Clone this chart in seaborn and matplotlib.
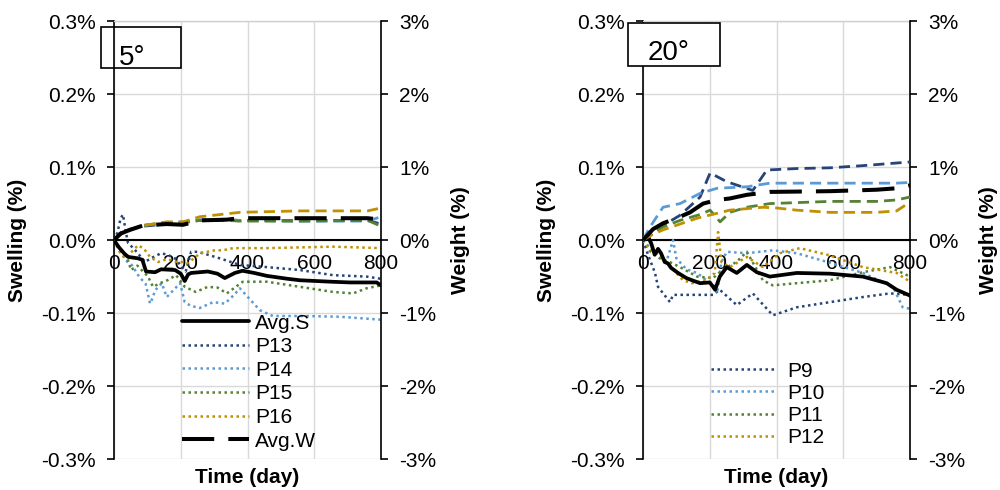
import numpy as np
import matplotlib
matplotlib.use("Agg")
import matplotlib.pyplot as plt
from matplotlib.patches import Rectangle
import seaborn as sns

sns.set_theme(style="white")
plt.rcParams["font.family"] = ["Liberation Sans", "DejaVu Sans"]
plt.rcParams.update({"text.color": "black", "axes.labelcolor": "black",
                     "xtick.color": "black", "ytick.color": "black"})

NAVY = "#264478"
LBLUE = "#5B9BD5"
GREEN = "#548235"
GOLD = "#BF9000"

# ---------------- axis ticks ----------------
time_ticks = [0, 200, 400, 600, 800]
sw_ticks = [-0.3, -0.2, -0.1, 0.0, 0.1, 0.2, 0.3]
sw_ticklabels = ["-0.3%", "-0.2%", "-0.1%", "0.0%", "0.1%", "0.2%", "0.3%"]
wt_ticks = [-3, -2, -1, 0, 1, 2, 3]
wt_ticklabels = ["-3%", "-2%", "-1%", "0%", "1%", "2%", "3%"]

# ---------------- 5 degree specimens: swelling (%) ----------------
avgs5_day = [0, 15, 30, 42, 72, 85, 96, 123, 141, 183, 200, 212, 222, 231, 281,
             310, 332, 362, 385, 420, 458, 520, 557, 650, 707, 787, 800]
avgs5 = [0, -0.010, -0.018, -0.023, -0.025, -0.027, -0.043, -0.044, -0.040, -0.041,
         -0.046, -0.056, -0.047, -0.045, -0.043, -0.046, -0.052, -0.045, -0.042,
         -0.045, -0.049, -0.053, -0.055, -0.057, -0.058, -0.058, -0.062]

p13_day = [0, 10, 20, 27, 35, 42, 60, 75, 93, 110, 141, 160, 183, 200, 215, 231,
           251, 281, 317, 377, 458, 557, 656, 757, 800]
p13 = [0, 0.010, 0.030, 0.035, 0.012, -0.004, -0.012, -0.020, -0.030, -0.025,
       -0.018, -0.020, -0.025, -0.035, -0.043, -0.016, -0.016, -0.020, -0.025,
       -0.034, -0.037, -0.041, -0.048, -0.050, -0.053]

p14_day = [0, 15, 33, 55, 75, 95, 108, 115, 123, 143, 158, 175, 198, 212, 230,
           257, 297, 332, 360, 377, 437, 476, 577, 677, 800]
p14 = [0, -0.010, -0.027, -0.035, -0.050, -0.060, -0.087, -0.080, -0.069, -0.059,
       -0.078, -0.070, -0.059, -0.085, -0.090, -0.093, -0.085, -0.087, -0.075,
       -0.066, -0.096, -0.104, -0.104, -0.105, -0.109]

p15_day = [0, 15, 39, 51, 70, 102, 117, 138, 160, 186, 212, 245, 281, 310, 338,
           386, 458, 557, 656, 716, 757, 800]
p15 = [0, -0.012, -0.023, -0.041, -0.035, -0.050, -0.064, -0.059, -0.055, -0.048,
       -0.064, -0.071, -0.064, -0.065, -0.073, -0.057, -0.057, -0.064, -0.071,
       -0.073, -0.066, -0.062]

p16_day = [0, 15, 35, 55, 72, 90, 108, 132, 160, 190, 207, 218, 240, 257, 302,
           326, 356, 458, 656, 800]
p16 = [0, -0.015, -0.025, -0.015, -0.007, -0.012, -0.023, -0.030, -0.026, -0.030,
       -0.030, -0.032, -0.025, -0.018, -0.014, -0.014, -0.011, -0.011, -0.009, -0.011]

# ---------------- 5 degree specimens: weight (%) ----------------
w5_day = [0, 20, 48, 87, 158, 207, 257, 338, 377, 557, 760, 800]
p13w = [0, 0.10, 0.15, 0.19, 0.22, 0.24, 0.27, 0.28, 0.27, 0.27, 0.27, 0.22]
p14w = [0, 0.09, 0.15, 0.20, 0.24, 0.25, 0.28, 0.27, 0.27, 0.26, 0.26, 0.32]
p15w = [0, 0.08, 0.14, 0.20, 0.24, 0.24, 0.27, 0.27, 0.26, 0.26, 0.27, 0.19]
p16w = [0, 0.08, 0.14, 0.20, 0.25, 0.25, 0.32, 0.36, 0.38, 0.40, 0.40, 0.44]
avgw5 = [0, 0.09, 0.14, 0.20, 0.22, 0.21, 0.27, 0.28, 0.30, 0.30, 0.30, 0.28]

# ---------------- 20 degree specimens: swelling (%) ----------------
avgs20_day = [0, 15, 25, 35, 45, 54, 65, 75, 84, 105, 130, 147, 171, 200, 210, 216,
              230, 251, 281, 311, 341, 380, 461, 560, 659, 730, 760, 800]
avgs20 = [0, 0.005, -0.005, -0.020, -0.012, -0.018, -0.030, -0.032, -0.038, -0.045,
          -0.052, -0.055, -0.059, -0.058, -0.064, -0.068, -0.050, -0.037, -0.045,
          -0.034, -0.044, -0.050, -0.045, -0.046, -0.050, -0.059, -0.068, -0.076]

p9_day = [0, 15, 36, 45, 81, 90, 150, 210, 230, 281, 329, 389, 461, 560, 659, 740, 800]
p9 = [0, -0.020, -0.045, -0.064, -0.085, -0.075, -0.075, -0.075, -0.068, -0.089,
      -0.073, -0.103, -0.092, -0.085, -0.078, -0.073, -0.075]

p10_day = [0, 20, 45, 70, 90, 100, 130, 162, 190, 210, 222, 235, 251, 311, 389,
           461, 560, 659, 749, 778, 800]
p10 = [0, -0.010, -0.020, -0.030, 0.000, -0.025, -0.040, -0.045, -0.055, -0.060,
       -0.073, -0.030, -0.016, -0.018, -0.014, -0.018, -0.031, -0.045, -0.064,
       -0.092, -0.094]

p11_day = [0, 20, 50, 80, 111, 162, 210, 240, 280, 311, 359, 389, 461, 560, 659, 740, 800]
p11 = [0, -0.015, -0.025, -0.030, -0.037, -0.050, -0.052, -0.040, -0.030, -0.016,
       -0.055, -0.062, -0.059, -0.055, -0.044, -0.037, -0.050]

p12_day = [0, 20, 50, 80, 120, 147, 190, 215, 225, 235, 260, 311, 359, 410, 470,
           560, 659, 760, 800]
p12 = [0, -0.012, -0.020, -0.035, -0.055, -0.059, -0.055, -0.045, 0.011, -0.030,
       -0.037, -0.023, -0.037, -0.018, -0.011, -0.021, -0.037, -0.045, -0.057]

# ---------------- 20 degree specimens: weight (%) ----------------
p9w_day = [0, 30, 60, 111, 171, 201, 251, 329, 371, 461, 560, 659, 800]
p9w = [0, 0.10, 0.20, 0.34, 0.59, 0.92, 0.80, 0.68, 0.96, 0.98, 0.99, 1.02, 1.07]
p10w_day = [0, 21, 60, 111, 171, 222, 311, 380, 560, 760, 800]
p10w = [0, 0.18, 0.45, 0.50, 0.64, 0.71, 0.73, 0.78, 0.78, 0.78, 0.79]
p11w_day = [0, 30, 60, 111, 171, 201, 231, 260, 311, 380, 560, 700, 760, 800]
p11w = [0, 0.10, 0.18, 0.27, 0.35, 0.41, 0.25, 0.38, 0.45, 0.50, 0.53, 0.53, 0.55, 0.59]
p12w_day = [0, 30, 60, 111, 162, 260, 359, 400, 461, 560, 700, 760, 800]
p12w = [0, 0.08, 0.14, 0.22, 0.30, 0.41, 0.45, 0.44, 0.41, 0.38, 0.38, 0.40, 0.52]
avgw20_day = [0, 30, 60, 111, 141, 180, 222, 260, 311, 380, 560, 700, 760, 800]
avgw20 = [0, 0.15, 0.23, 0.32, 0.38, 0.50, 0.55, 0.57, 0.62, 0.66, 0.67, 0.69, 0.71, 0.75]

FS = 15
DOT = (0, (1, 1.4))
DASH = (0, (4.0, 2.2))
LONGDASH = (0, (8, 3.5))
LW_DOT = 1.8
LW_DASH = 2.0

fig = plt.figure(figsize=(10, 4.9), dpi=100)


def make_panel(rect):
    ax = fig.add_axes(rect)
    ax2 = ax.twinx()
    ax.set_xlim(0, 800)
    ax.set_ylim(-0.3, 0.3)
    ax.set_xticks(time_ticks)
    ax.set_xticklabels([str(t) for t in time_ticks])
    ax.set_yticks(sw_ticks)
    ax.set_yticklabels(sw_ticklabels)
    ax.grid(True, color="#d9d9d9", lw=1.0)
    ax.set_axisbelow(True)
    ax.spines["bottom"].set_position(("data", 0))
    ax.spines["bottom"].set_color("black")
    ax.spines["bottom"].set_linewidth(1.5)
    ax.spines["left"].set_color("black")
    ax.spines["left"].set_linewidth(1.2)
    ax.spines["right"].set_visible(False)
    ax.spines["top"].set_color("#d0d0d0")
    ax.spines["top"].set_linewidth(1.0)
    ax.tick_params(axis="y", left=True, direction="out", length=5, width=1.2,
                   color="black", labelcolor="black", pad=8, labelsize=FS)
    ax.tick_params(axis="x", bottom=True, length=0, pad=10, labelsize=FS,
                   labelcolor="black")
    ax.set_xlabel("")
    ax.set_ylabel("")

    ax2.set_ylim(-3, 3)
    ax2.set_yticks(wt_ticks)
    ax2.set_yticklabels(wt_ticklabels)
    ax2.grid(False)
    for s in ["left", "top", "bottom"]:
        ax2.spines[s].set_visible(False)
    ax2.spines["right"].set_color("black")
    ax2.spines["right"].set_linewidth(1.2)
    ax2.tick_params(axis="y", right=True, direction="out", length=5, width=1.2,
                    color="black", labelcolor="black", pad=8, labelsize=FS)
    return ax, ax2


def draw(ax, x, y, color, style, lw, label, z=3):
    sns.lineplot(x=x, y=y, ax=ax, color=color, linestyle=style, lw=lw,
                 estimator=None, sort=False, legend=False, label=label, zorder=z)
    line = ax.lines[-1]
    if style == DOT:
        line.set_dash_capstyle("butt")
    return line


# ---------------- 5 degree panel ----------------
axL, axL2 = make_panel([0.114, 0.063, 0.267, 0.894])
hp13 = draw(axL, p13_day, p13, NAVY, DOT, LW_DOT, "P13")
hp14 = draw(axL, p14_day, p14, LBLUE, DOT, LW_DOT, "P14")
hp15 = draw(axL, p15_day, p15, GREEN, DOT, LW_DOT, "P15")
hp16 = draw(axL, p16_day, p16, GOLD, DOT, LW_DOT, "P16")
hs5 = draw(axL, avgs5_day, avgs5, "black", "-", 2.7, "Avg.S", z=4)
draw(axL2, w5_day, p13w, NAVY, DASH, LW_DASH, "P13")
draw(axL2, w5_day, p14w, LBLUE, DASH, LW_DASH, "P14")
draw(axL2, w5_day, p15w, GREEN, DASH, LW_DASH, "P15")
draw(axL2, w5_day, p16w, GOLD, DASH, LW_DASH, "P16")
hw5 = draw(axL2, w5_day, avgw5, "black", LONGDASH, 2.9, "Avg.W", z=4)
axL2.set_ylabel("")

axL2.legend([hs5, hp13, hp14, hp15, hp16, hw5],
            ["Avg.S", "P13", "P14", "P15", "P16", "Avg.W"],
            loc="upper left", bbox_to_anchor=(0.182, 0.360),
            bbox_transform=fig.transFigure, frameon=False, fontsize=FS,
            handlelength=3.2, handletextpad=0.3, labelspacing=0.22,
            borderpad=0, borderaxespad=0)

# ---------------- 20 degree panel ----------------
axR, axR2 = make_panel([0.643, 0.063, 0.267, 0.894])
hp9 = draw(axR, p9_day, p9, NAVY, DOT, LW_DOT, "P9")
hp10 = draw(axR, p10_day, p10, LBLUE, DOT, LW_DOT, "P10")
hp11 = draw(axR, p11_day, p11, GREEN, DOT, LW_DOT, "P11")
hp12 = draw(axR, p12_day, p12, GOLD, DOT, LW_DOT, "P12")
draw(axR, avgs20_day, avgs20, "black", "-", 2.7, "Avg.S", z=4)
draw(axR2, p9w_day, p9w, NAVY, DASH, LW_DASH, "P9")
draw(axR2, p10w_day, p10w, LBLUE, DASH, LW_DASH, "P10")
draw(axR2, p11w_day, p11w, GREEN, DASH, LW_DASH, "P11")
draw(axR2, p12w_day, p12w, GOLD, DASH, LW_DASH, "P12")
draw(axR2, avgw20_day, avgw20, "black", LONGDASH, 2.9, "Avg.W", z=4)
axR2.set_ylabel("")

axR2.legend([hp9, hp10, hp11, hp12], ["P9", "P10", "P11", "P12"],
            loc="upper left", bbox_to_anchor=(0.711, 0.262),
            bbox_transform=fig.transFigure, frameon=False, fontsize=FS,
            handlelength=3.1, handletextpad=0.55, labelspacing=0.15,
            borderpad=0, borderaxespad=0)

# ---------------- axis titles ----------------
for xc in (0.018, 0.547):
    fig.text(xc, 0.51, "Swelling (%)", rotation=90, ha="center", va="center",
             fontsize=FS, fontweight="bold")
for xc in (0.460, 0.988):
    fig.text(xc, 0.51, "Weight (%)", rotation=90, ha="center", va="center",
             fontsize=FS, fontweight="bold")
for xc in (0.2475, 0.7765):
    fig.text(xc, 1 - 477 / 490, "Time (day)", ha="center", va="center",
             fontsize=FS, fontweight="bold")

# ---------------- angle boxes ----------------
fig.add_artist(Rectangle((0.101, 1 - 68 / 490), 0.080, 41 / 490,
                         transform=fig.transFigure, facecolor="none",
                         edgecolor="black", lw=1.2, zorder=5))
fig.text(0.119, 1 - 65 / 490, "5°", fontsize=20, ha="left", va="baseline")
fig.add_artist(Rectangle((0.628, 1 - 66 / 490), 0.092, 43 / 490,
                         transform=fig.transFigure, facecolor="white",
                         edgecolor="black", lw=1.2, zorder=5))
fig.text(0.648, 1 - 60 / 490, "20°", fontsize=20, ha="left", va="baseline",
         zorder=6)

fig.savefig("out.png", dpi=100)
